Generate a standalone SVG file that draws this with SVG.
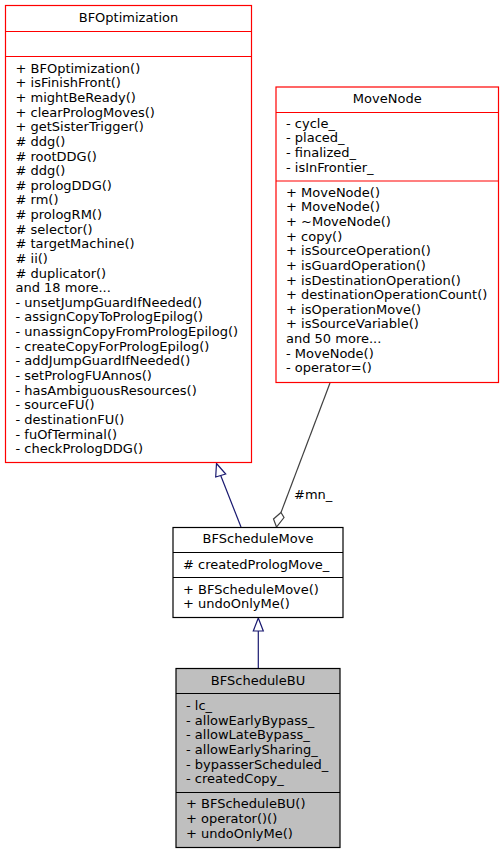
<svg xmlns="http://www.w3.org/2000/svg" width="504" height="853" viewBox="0 0 504 853">
<style>
text{font-family:"DejaVu Sans","Liberation Sans",sans-serif;font-size:13px;fill:#000}
.t{text-anchor:middle}
.box{fill:#fff;stroke:#ff0000;stroke-width:1.2}
.boxk{fill:#fff;stroke:#000;stroke-width:1.2}
.boxg{fill:#bfbfbf;stroke:#000;stroke-width:1.2}
.sepr{stroke:#ff0000;stroke-width:1.2}
.sepk{stroke:#000;stroke-width:1.2}
.inh{stroke:#191970;stroke-width:1.2;fill:none}
.inhh{stroke:#191970;stroke-width:1.2;fill:#fff}
.agg{stroke:#404040;stroke-width:1.2;fill:none}
.aggh{stroke:#404040;stroke-width:1.2;fill:#fff}
</style>
<rect width="504" height="853" fill="#fff"/>
<g id="connectors">
<line class="inh" x1="241" y1="527" x2="220.7" y2="475.5"/>
<polygon class="inhh" points="216.5,463.5 225.7,474 215.7,477"/>
<line class="inh" x1="258.3" y1="668" x2="258.3" y2="631"/>
<polygon class="inhh" points="258.3,618 263.3,631 253.3,631"/>
<line class="agg" x1="330" y1="383" x2="281" y2="512.5"/>
<polygon class="aggh" points="281,512.5 284,517.5 276.5,527 273.5,519"/>
<text x="294" y="499">#mn_</text>
</g>
<g id="BFOptimization">
<rect class="box" x="5.5" y="5.5" width="246" height="457"/>
<line class="sepr" x1="5.5" y1="31.5" x2="251.5" y2="31.5"/>
<line class="sepr" x1="5.5" y1="56.5" x2="251.5" y2="56.5"/>
<text class="t" x="128.5" y="22">BFOptimization</text>
<text x="15.5" y="72.7">+ BFOptimization()</text>
<text x="15.5" y="87.3">+ isFinishFront()</text>
<text x="15.5" y="101.9">+ mightBeReady()</text>
<text x="15.5" y="116.6">+ clearPrologMoves()</text>
<text x="15.5" y="131.2">+ getSisterTrigger()</text>
<text x="15.5" y="145.8"># ddg()</text>
<text x="15.5" y="160.5"># rootDDG()</text>
<text x="15.5" y="175.1"># ddg()</text>
<text x="15.5" y="189.7"># prologDDG()</text>
<text x="15.5" y="204.4"># rm()</text>
<text x="15.5" y="219.0"># prologRM()</text>
<text x="15.5" y="233.6"># selector()</text>
<text x="15.5" y="248.3"># targetMachine()</text>
<text x="15.5" y="262.9"># ii()</text>
<text x="15.5" y="277.5"># duplicator()</text>
<text x="15.5" y="292.2">and 18 more...</text>
<text x="15.5" y="306.8">- unsetJumpGuardIfNeeded()</text>
<text x="15.5" y="321.4">- assignCopyToPrologEpilog()</text>
<text x="15.5" y="336.1">- unassignCopyFromPrologEpilog()</text>
<text x="15.5" y="350.7">- createCopyForPrologEpilog()</text>
<text x="15.5" y="365.3">- addJumpGuardIfNeeded()</text>
<text x="15.5" y="380.0">- setPrologFUAnnos()</text>
<text x="15.5" y="394.6">- hasAmbiguousResources()</text>
<text x="15.5" y="409.2">- sourceFU()</text>
<text x="15.5" y="423.9">- destinationFU()</text>
<text x="15.5" y="438.5">- fuOfTerminal()</text>
<text x="15.5" y="453.1">- checkPrologDDG()</text>
</g>
<g id="MoveNode">
<rect class="box" x="276" y="87" width="222.5" height="295.5"/>
<line class="sepr" x1="276" y1="112.5" x2="498.5" y2="112.5"/>
<line class="sepr" x1="276" y1="181" x2="498.5" y2="181"/>
<text class="t" x="387.25" y="103">MoveNode</text>
<text x="286" y="127.7">- cycle_</text>
<text x="286" y="142.3">- placed_</text>
<text x="286" y="157.0">- finalized_</text>
<text x="286" y="171.6">- isInFrontier_</text>
<text x="286" y="196.7">+ MoveNode()</text>
<text x="286" y="211.3">+ MoveNode()</text>
<text x="286" y="226.0">+ ~MoveNode()</text>
<text x="286" y="240.6">+ copy()</text>
<text x="286" y="255.2">+ isSourceOperation()</text>
<text x="286" y="269.9">+ isGuardOperation()</text>
<text x="286" y="284.5">+ isDestinationOperation()</text>
<text x="286" y="299.1">+ destinationOperationCount()</text>
<text x="286" y="313.8">+ isOperationMove()</text>
<text x="286" y="328.4">+ isSourceVariable()</text>
<text x="286" y="343.0">and 50 more...</text>
<text x="286" y="357.7">- MoveNode()</text>
<text x="286" y="372.3">- operator=()</text>
</g>
<g id="BFScheduleMove">
<rect class="boxk" x="173" y="527.5" width="170" height="90"/>
<line class="sepk" x1="173" y1="552.5" x2="343" y2="552.5"/>
<line class="sepk" x1="173" y1="577.5" x2="343" y2="577.5"/>
<text class="t" x="258" y="543">BFScheduleMove</text>
<text x="183" y="569"># createdPrologMove_</text>
<text x="183" y="593.5">+ BFScheduleMove()</text>
<text x="183" y="608.2">+ undoOnlyMe()</text>
</g>
<g id="BFScheduleBU">
<rect class="boxg" x="176" y="668.5" width="164" height="179"/>
<line class="sepk" x1="176" y1="693.5" x2="340" y2="693.5"/>
<line class="sepk" x1="176" y1="792.5" x2="340" y2="792.5"/>
<text class="t" x="258" y="684.5">BFScheduleBU</text>
<text x="186" y="710">- lc_</text>
<text x="186" y="724.6">- allowEarlyBypass_</text>
<text x="186" y="739.3">- allowLateBypass_</text>
<text x="186" y="753.9">- allowEarlySharing_</text>
<text x="186" y="768.5">- bypasserScheduled_</text>
<text x="186" y="783.2">- createdCopy_</text>
<text x="186" y="808.3">+ BFScheduleBU()</text>
<text x="186" y="823">+ operator()()</text>
<text x="186" y="837.6">+ undoOnlyMe()</text>
</g>
</svg>
